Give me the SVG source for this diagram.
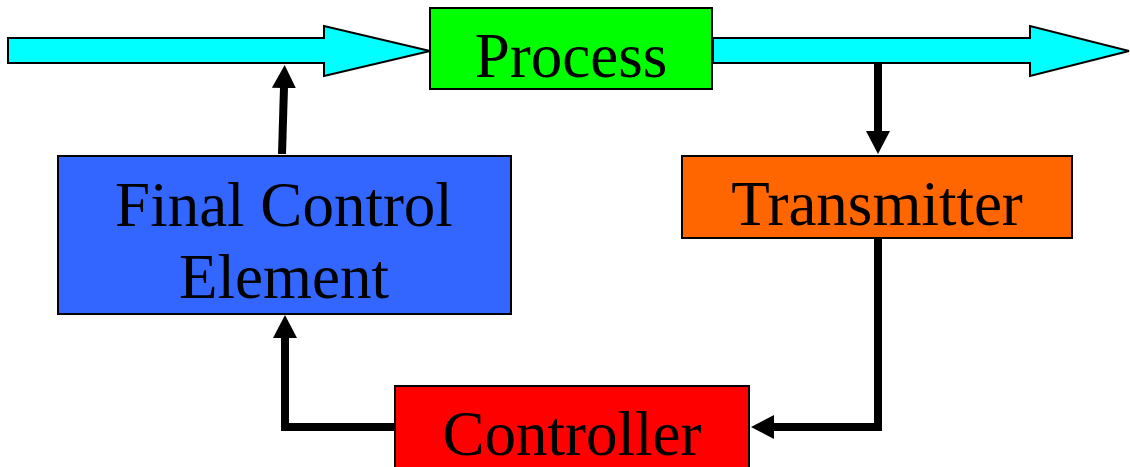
<svg xmlns="http://www.w3.org/2000/svg" width="1130" height="467" viewBox="0 0 1130 467">
  <style>
    .box { stroke: #000; stroke-width: 2; }
    .flow { fill: #00ffff; stroke: #000; stroke-width: 2; stroke-linejoin: miter; }
    .lbl { font-family: "Liberation Serif", "Times New Roman", serif; font-size: 63px; fill: #000; text-anchor: middle; }
    .conn { fill: none; stroke: #000; stroke-width: 8; stroke-linejoin: miter; stroke-linecap: butt; marker-end: url(#ah); }
  </style>
  <defs>
    <marker id="ah" viewBox="0 0 23 24" refX="1" refY="12" markerWidth="23" markerHeight="24" markerUnits="userSpaceOnUse" orient="auto">
      <path d="M0,0 L23,12 L0,24 Z" fill="#000"/>
    </marker>
  </defs>
  <rect width="1130" height="467" fill="#fff"/>

  <g id="flow-in">
    <polygon class="flow" points="8,38 324,38 324,26 430,51 324,76 324,63 8,63"/>
  </g>
  <g id="flow-out">
    <polygon class="flow" points="713,38 1030,38 1030,26 1129,51 1030,76 1030,63 713,63"/>
  </g>

  <g id="process">
    <rect class="box" x="430" y="8" width="282" height="81" fill="#00ff00"/>
    <text class="lbl" x="571" y="77">Process</text>
  </g>

  <g id="final-control-element">
    <rect class="box" x="58" y="156" width="453" height="158" fill="#3366ff"/>
    <text class="lbl" x="284" y="226">Final Control</text>
    <text class="lbl" x="284" y="298">Element</text>
  </g>

  <g id="transmitter">
    <rect class="box" x="682" y="156" width="390" height="82" fill="#ff6600"/>
    <text class="lbl" x="877" y="225">Transmitter</text>
  </g>

  <g id="controller">
    <rect class="box" x="395" y="386" width="354" height="90" fill="#ff0000"/>
    <text class="lbl" x="572" y="455">Controller</text>
  </g>

  <g id="connectors">
    <path class="conn" d="M282,154 L284,87"/>
    <path class="conn" d="M878,62 L878,132"/>
    <path class="conn" d="M878,238 L878,427 L773,427"/>
    <path class="conn" d="M395,427 L285,427 L285,337"/>
  </g>
</svg>
